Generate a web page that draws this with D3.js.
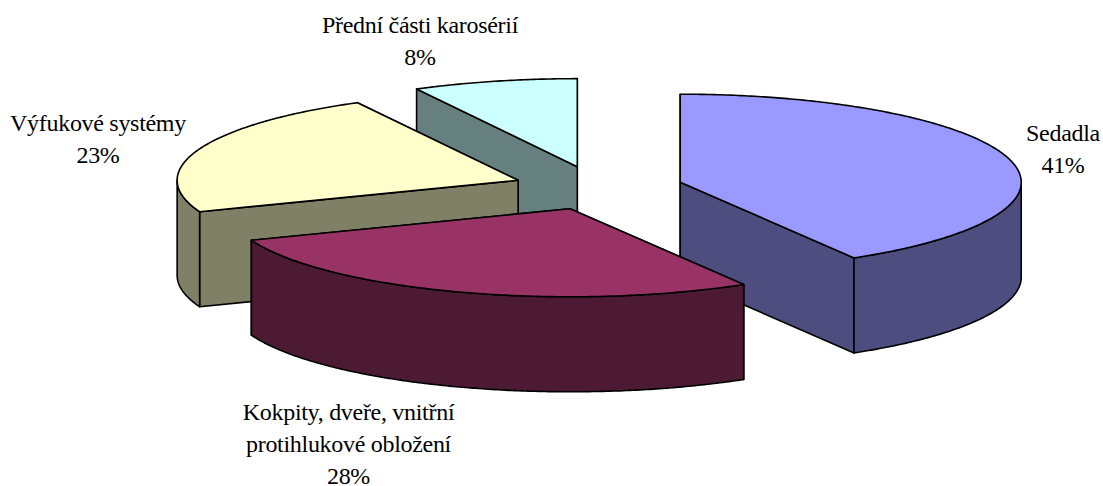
<!DOCTYPE html>
<html>
<head>
<meta charset="utf-8">
<script src="https://cdn.jsdelivr.net/npm/d3@7"></script>
<style>
  html, body { margin: 0; padding: 0; background: #fff; }
  svg { display: block; }
  text { font-family: "Liberation Serif", serif; font-size: 24px; letter-spacing: -0.3px; fill: #000; text-anchor: middle; }
</style>
</head>
<body>
<div id="chart"></div>
<script>
// values, labels round them to whole percents
const categories = ['Sedadla', 'Kokpity, dveře, vnitřní|protihlukové obložení', 'Výfukové systémy', 'Přední části karosérií']
const shares = [41.49, 27.7, 23.0, 7.81]
const topColors = ['#9999ff', '#993366', '#ffffcc', '#ccffff']
const sideColors = ['#4d4d80', '#4d1a33', '#808066', '#668080']

const width = 1103, height = 486
const cx = 598, cy = 188        // pie centre
const rx = 341, ry = 88         // ellipse of the tilted pie
const depth = 95
const explode = 0.25

// where each label block is centred, first baseline
const labelPos = [[1063, 141], [348.5, 420], [98, 131], [420, 33]]
const lineHeight = 32

const svg = d3.select('#chart').append('svg')
  .attr('width', width)
  .attr('height', height)

const slices = d3.pie().sort(null).value(d => d)(shares)

// the tilted pie is a circle of radius 1 pushed through these two scales
const xScale = d3.scaleLinear().domain([-1, 1]).range([cx - rx, cx + rx])
const yScale = d3.scaleLinear().domain([-1, 1]).range([cy - ry, cy + ry])

const line = d3.line()

function polar(a, r) {
  return [r * Math.sin(a), -r * Math.cos(a)]
}

function project(offset, a, r, drop) {
  const [ox, oy] = polar(offset, explode)
  const [px, py] = polar(a, r)
  return [xScale(ox + px), yScale(oy + py) + drop]
}

function arcPoints(mid, a0, a1, drop) {
  const n = Math.max(2, Math.ceil((a1 - a0) / 0.01))
  return d3.range(n + 1).map(i => project(mid, a0 + (a1 - a0) * i / n, 1, drop))
}

function face(g, points, fill) {
  g.append('path')
    .attr('d', line(points) + 'Z')
    .attr('fill', fill)
    .attr('stroke', '#000')
    .attr('stroke-width', 1.6)
    .attr('stroke-linejoin', 'round')
}

// back slices first, then the one that overlaps the others
const drawOrder = [3, 2, 0, 1]

drawOrder.forEach(i => {
  const s = slices[i]
  const mid = (s.startAngle + s.endAngle) / 2
  const g = svg.append('g').attr('class', 'slice')
  const apex = project(mid, 0, 0, 0)
  const apexLow = project(mid, 0, 0, depth)

  // the cut walls, the one that runs higher up on screen goes first
  const walls = [s.startAngle, s.endAngle].sort((a, b) => project(mid, a, 1, 0)[1] - project(mid, b, 1, 0)[1])
  walls.forEach(a => {
    face(g, [apex, project(mid, a, 1, 0), project(mid, a, 1, depth), apexLow], sideColors[i])
  })

  // outer rim, only the front half of the ellipse shows
  const a0 = Math.max(s.startAngle, Math.PI / 2)
  const a1 = Math.min(s.endAngle, Math.PI * 1.5)
  if (a1 > a0) {
    face(g, arcPoints(mid, a0, a1, 0).concat(arcPoints(mid, a0, a1, depth).reverse()), sideColors[i])
  }

  face(g, [apex].concat(arcPoints(mid, s.startAngle, s.endAngle, 0)), topColors[i])
})

categories.forEach((c, i) => {
  const lines = c.split('|').concat(Math.round(shares[i]) + '%')
  const t = svg.append('text').attr('transform', `translate(${labelPos[i][0]},${labelPos[i][1]})`)
  lines.forEach((l, k) => {
    t.append('tspan').attr('x', 0).attr('y', k * lineHeight).text(l)
  })
})
</script>
</body>
</html>
